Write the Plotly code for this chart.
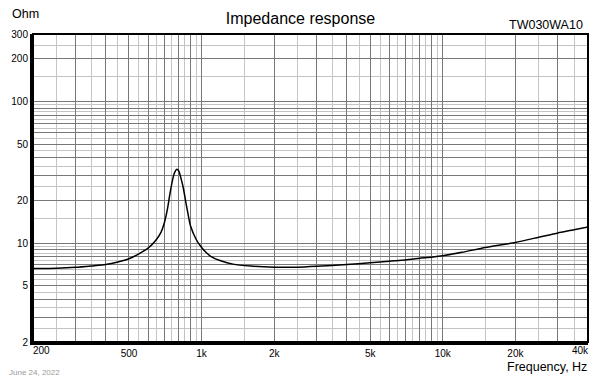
import math
import plotly.graph_objects as go

# ---- data ----
freq_hz = [200, 250, 300, 350, 400, 450, 500, 550, 600, 650, 680, 700, 720, 740, 760, 775,
           790, 805, 820, 840, 860, 880, 900, 950, 1000, 1050, 1100, 1200, 1350, 1600, 2000,
           2500, 3000, 4000, 5000, 6000, 7000, 8000, 10000, 12000, 15000, 20000, 25000,
           30000, 35000, 40000]
impedance_ohm = [6.6, 6.65, 6.75, 6.9, 7.05, 7.35, 7.75, 8.4, 9.2, 10.6, 12.0, 13.8, 17.0,
                 22.5, 28.5, 31.8, 33.2, 32.2, 29.0, 24.5, 19.5, 15.8, 13.2, 10.6, 9.3, 8.5,
                 8.0, 7.5, 7.1, 6.88, 6.75, 6.75, 6.85, 7.05, 7.25, 7.45, 7.6, 7.8, 8.15, 8.6,
                 9.3, 10.1, 11.0, 11.8, 12.4, 13.0]

x_major = [200, 300, 400, 500, 600, 700, 800, 900, 1000, 2000, 3000, 4000, 5000, 6000,
           7000, 8000, 9000, 10000, 20000, 30000, 40000]
x_labels = {200: "200", 500: "500", 1000: "1k", 2000: "2k", 5000: "5k", 10000: "10k",
            20000: "20k", 40000: "40k"}
x_minor = [250, 350, 450, 550, 650, 750, 850, 950, 1500, 2500, 3500, 4500, 5500, 6500,
           7500, 8500, 9500, 15000, 25000, 35000]

y_major = [2, 3, 4, 5, 6, 7, 8, 9, 10, 20, 30, 40, 50, 60, 70, 80, 90, 100, 200, 300]
y_labels = {2: "2", 5: "5", 10: "10", 20: "20", 50: "50", 100: "100", 200: "200", 300: "300"}
y_minor = [2.5, 3.5, 4.5, 5.5, 6.5, 7.5, 8.5, 9.5, 15, 25, 35, 45, 55, 65, 75, 85, 95,
           150, 250]

# ---- layout helpers ----
L, R, T, B = 33, 588, 34, 342
W, H = 601, 391


def px(p):
    return (p - L) / (R - L)


def py(p):
    return (B - p) / (B - T)


FONT = "Liberation Sans, Arial, sans-serif"
DARK = "#777777"
LIGHT = "#c4c4c4"

fig = go.Figure()
fig.add_trace(go.Scatter(x=freq_hz, y=impedance_ohm, mode="lines",
                         line=dict(color="black", width=1.5, shape="spline", smoothing=0.6),
                         hoverinfo="skip"))

fig.update_layout(
    template="none",
    width=W, height=H,
    margin=dict(l=L, r=W - R, t=T, b=H - B, autoexpand=False),
    paper_bgcolor="white", plot_bgcolor="white",
    font=dict(family=FONT, color="black"),
    showlegend=False,
    title=dict(text="Impedance response", x=0.5, xref="container", xanchor="center",
               y=1 - 18 / H, yref="container", yanchor="middle", automargin=False,
               font=dict(size=16, family=FONT, color="black")),
)

fig.update_xaxes(
    type="log", range=[math.log10(200), math.log10(40000)], automargin=False,
    tickmode="array", tickvals=x_major,
    ticktext=[("" if v in (200, 40000) else x_labels.get(v, "")) for v in x_major],
    showgrid=True, gridcolor=DARK, gridwidth=1,
    minor=dict(tickmode="array", tickvals=x_minor, showgrid=True, gridcolor=LIGHT,
               gridwidth=1, ticks=""),
    showline=True, linecolor="black", linewidth=3, ticks="", zeroline=False,
    tickfont=dict(size=10, family=FONT, color="black"),
)
fig.update_yaxes(
    type="log", range=[math.log10(2), math.log10(300)], automargin=False,
    tickmode="array", tickvals=y_major,
    ticktext=[y_labels.get(v, "") for v in y_major],
    showgrid=True, gridcolor=DARK, gridwidth=1,
    minor=dict(tickmode="array", tickvals=y_minor, showgrid=True, gridcolor=LIGHT,
               gridwidth=1, ticks=""),
    showline=True, linecolor="black", linewidth=3, ticks="", zeroline=False,
    tickfont=dict(size=10, family=FONT, color="black"),
)

# frame (top/right)
fig.add_shape(type="rect", xref="x domain", yref="y domain", x0=0, x1=1, y0=0, y1=1,
              line=dict(color="black", width=2), layer="above")

# edge tick labels kept inside like the reference
fig.add_annotation(x=math.log10(200), xref="x", y=py(350.5), yref="paper", text=x_labels[200],
                   showarrow=False, xanchor="left", yanchor="middle", xshift=-2,
                   font=dict(size=10, family=FONT, color="black"))
fig.add_annotation(x=math.log10(40000), xref="x", y=py(350.5), yref="paper",
                   text=x_labels[40000], showarrow=False, xanchor="right", yanchor="middle",
                   xshift=3, font=dict(size=10, family=FONT, color="black"))

texts = [
    ("Ohm", px(10), py(13.5), "left", 12.5, "black"),
    ("TW030WA10", px(585), py(25), "right", 12.5, "black"),
    ("Frequency, Hz", px(589), py(367), "right", 12.5, "black"),
    ("June 24, 2022", px(7), py(372.5), "left", 8, "#9a9a9a"),
]
for t, x, y, xa, s, c in texts:
    fig.add_annotation(x=x, y=y, xref="paper", yref="paper", text=t, showarrow=False,
                       xanchor=xa, yanchor="middle", font=dict(size=s, family=FONT, color=c))

fig.write_html("out.html", config={"displayModeBar": False},
               post_script="document.body.style.margin='0';document.body.style.overflow='hidden';")
